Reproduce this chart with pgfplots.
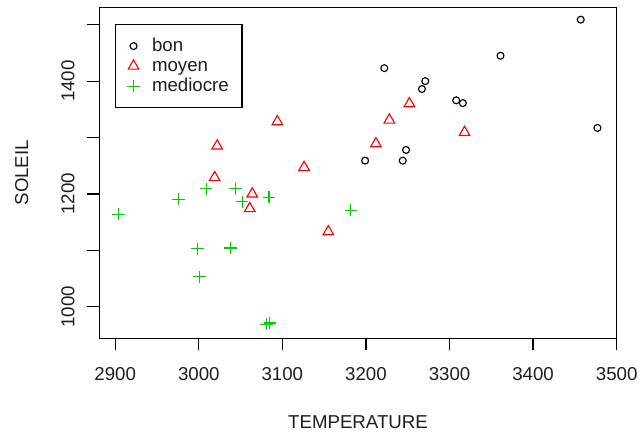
\documentclass[border=0pt]{standalone}
\usepackage{pgfplots}
\pgfplotsset{compat=1.18}
\usepackage{fontspec}
\setmainfont{Liberation Sans}
\definecolor{rgreen}{RGB}{0,205,0}
\definecolor{rred}{RGB}{255,0,0}
\definecolor{txt}{RGB}{30,30,30}
\begin{document}
\begin{tikzpicture}
\path[use as bounding box] (0,0) rectangle (480pt,325.5pt);
\begin{axis}[
 at={(74.5pt,71.8pt)}, anchor=south west,
 scale only axis, width=388pt, height=248.25pt,
 xmin=2881, xmax=3500, ymin=944, ymax=1531,
 xtick={2900,3000,...,3500},
 ytick={1000,1100,...,1500},
 yticklabels={1000,,1200,,1400,},
 tick align=outside, tick pos=left,
 major tick length=9pt,
 every tick/.style={black, line width=0.9pt},
 axis line style={line width=0.9pt},
 /pgf/number format/assume math mode=true,
 /pgf/number format/1000 sep={},
 ticklabel style={font=\fontsize{14}{16}\selectfont, text=txt},
 xticklabel shift=9pt,
 yticklabel style={rotate=90, anchor=south},
 yticklabel shift=6pt,
 xlabel={TEMPERATURE}, ylabel={SOLEIL},
 every axis x label/.style={at={(axis description cs:0.5,-0.252)}, anchor=center, font=\fontsize{14}{16}\selectfont, text=txt},
 every axis y label/.style={at={(axis description cs:-0.15,0.5)}, anchor=center, rotate=90, font=\fontsize{14}{16}\selectfont, text=txt},
 legend style={at={(axis description cs:0.0303,0.9486)}, anchor=north west, draw=black, line width=0.9pt, fill=white,
   font=\fontsize{14}{16}\selectfont, text=txt, inner xsep=8.85pt, inner ysep=8.4pt, row sep=0pt, column sep=8.25pt,
   nodes={inner sep=1pt, text height=10.5pt, text depth=2.5pt}},
 legend cell align=left,
 legend image code/.code={\path[draw=none,fill=none] (0pt,-3pt) rectangle (6.9pt,3pt); \draw[#1] plot coordinates {(3.45pt,0pt)};},
]
\addplot[only marks, mark=o, mark size=2.6pt, black, mark options={line width=0.85pt}] coordinates {
(3457,1509) (3361,1445) (3222,1423) (3271,1400) (3267,1386) (3308,1366)
(3316,1361) (3477,1317) (3248,1278) (3199,1259) (3244,1259)
};
\addlegendentry{bon}
\addplot[only marks, mark=triangle, mark size=4.6pt, rred, mark options={line width=0.85pt}] coordinates {
(3252,1360) (3228,1331) (3212,1289) (3318,1309) (3094,1328) (3022,1285)
(3126,1247) (3019,1229) (3064,1200) (3061,1174) (3155,1133)
};
\addlegendentry{moyen}
\addplot[only marks, mark=+, mark size=4.6pt, rgreen, mark options={line width=0.85pt}] coordinates {
(2904,1164) (2975.6,1190.4) (3009,1209) (3044,1209) (3052,1186) (3084,1194)
(3182,1171) (2998.6,1102.6) (3038,1104) (3001,1053) (3081,969) (3085,971)
};
\addlegendentry{mediocre}
\end{axis}
\end{tikzpicture}
\end{document}
